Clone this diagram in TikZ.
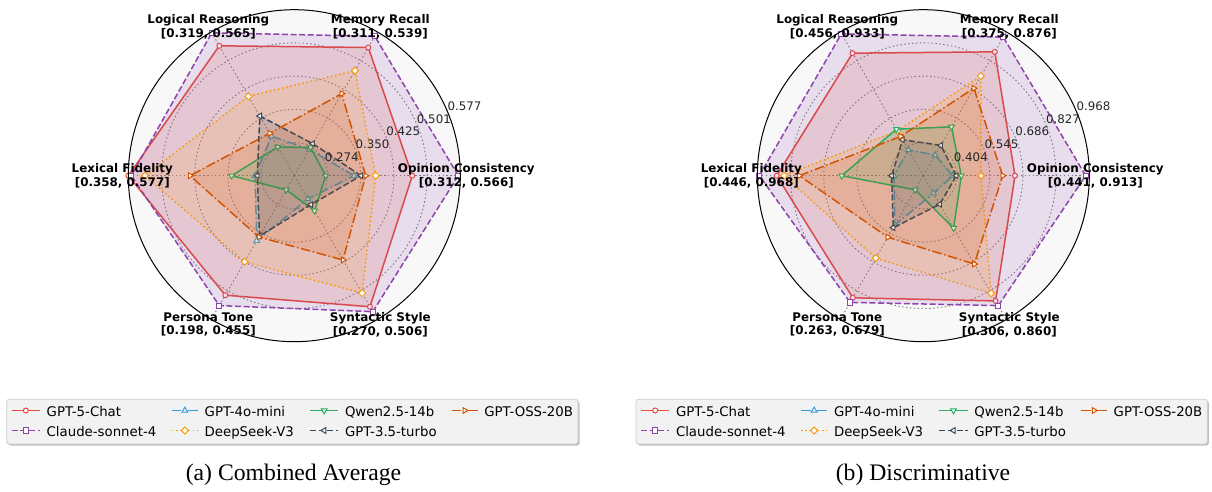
\documentclass[tikz,border=0pt]{standalone}
\usepackage{fontspec}
\setmainfont{DejaVu Sans}
\newfontfamily\capserif{Liberation Serif}
\usetikzlibrary{calc}

% series colours
\definecolor{cRed}{HTML}{E74C3C}
\definecolor{cPurple}{HTML}{8E44AD}
\definecolor{cBlue}{HTML}{3498DB}
\definecolor{cOrange}{HTML}{F39C12}
\definecolor{cGreen}{HTML}{27AE60}
\definecolor{cSlate}{HTML}{34495E}
\definecolor{cRust}{HTML}{D35400}
% frame colours
\definecolor{polarbg}{HTML}{F8F8F8}
\definecolor{gridgrey}{HTML}{808080}
\definecolor{legfill}{HTML}{F2F2F2}
\definecolor{legedge}{HTML}{CCCCCC}

\tikzset{
  every node/.style={inner sep=0pt, outer sep=0pt},
  axlabel/.style={font=\fontsize{11.9}{13.4}\selectfont\bfseries, align=center, anchor=center},
  ticklabel/.style={font=\fontsize{11.8}{13}\selectfont, anchor=base west, text=black!85},
  legtext/.style={font=\fontsize{13.3}{15}\selectfont, anchor=base west},
  captext/.style={font=\capserif\fontsize{23.7}{26}\selectfont, anchor=base},
  gridline/.style={draw=gridgrey, line width=0.9pt, dash pattern=on 1.5pt off 2.4pt},
  serline/.style={line width=1.5pt, line join=round},
  sdash/.style={dash pattern=on 6pt off 2.6pt},
  sdot/.style={dash pattern=on 1.6pt off 2.6pt},
  sdashdot/.style={dash pattern=on 9.6pt off 2.6pt on 1.6pt off 2.6pt},
  mk/.style={solid, line width=1pt, fill=white},
  pics/mo/.style={code={\draw[mk,draw=#1] (0,0) circle (2.5);}},
  pics/ms/.style={code={\draw[mk,draw=#1] (-2.6,-2.6) rectangle (2.6,2.6);}},
  pics/mtu/.style={code={\draw[mk,draw=#1] (90:3.3)--(210:3.3)--(330:3.3)--cycle;}},
  pics/mtd/.style={code={\draw[mk,draw=#1] (270:3.3)--(30:3.3)--(150:3.3)--cycle;}},
  pics/mtl/.style={code={\draw[mk,draw=#1] (180:3.3)--(300:3.3)--(60:3.3)--cycle;}},
  pics/mtr/.style={code={\draw[mk,draw=#1] (0:3.3)--(120:3.3)--(240:3.3)--cycle;}},
  pics/md/.style={code={\draw[mk,draw=#1] (0:3.5)--(90:3.5)--(180:3.5)--(270:3.5)--cycle;}},
}

% polar frame: background disc, dotted rings and spokes
\newcommand{\radarframe}{%
  \fill[polarbg] (0,0) circle (166);
  \foreach \k in {1,...,4} {\draw[gridline] (0,0) circle ({33.2*\k});}
  \foreach \a in {0,60,...,300} {\draw[gridline] (0,0) -- (\a:166);}
}

% one model: #1 colour, #2 line style, #3 marker, #4 radii for the six axes
\newcommand{\radarseries}[4]{%
  \foreach \rad [count=\i from 0] in {#4} {\coordinate (v\i) at ({60*\i}:\rad);}
  \fill[#1, fill opacity=0.15] (v0)--(v1)--(v2)--(v3)--(v4)--(v5)--cycle;
  \draw[serline, #1, #2] (v0)--(v1)--(v2)--(v3)--(v4)--(v5)--cycle;
  \foreach \i in {0,...,5} {\pic at (v\i) {#3=#1};}
}

% one legend entry: #1 x-start, #2 x-end, #3 line y, #4 colour, #5 line style, #6 marker, #7 name, #8 text
\newcommand{\legentry}[8]{%
  \draw[serline, #4, #5] (#1,#3) -- (#2,#3);
  \pic at ({(#1+#2)/2},#3) {#6=#4};
  \node[legtext] (#7) at ({#2+6.7},{#3-5.5}) {#8};
}

\newcommand{\legendblock}[1]{%
  \fill[black!25, rounded corners=2.5pt] (8.2,45.5) rectangle (579.5,90.2);
  \draw[legedge, fill=legfill, rounded corners=2.5pt, line width=0.8pt] (6.7,47) rectangle (578,91.7);
  \legentry{11.7}{40}{80.5}{cRed}{}{mo}{#1-l1}{GPT-5-Chat}
  \legentry{11.7}{40}{60.5}{cPurple}{sdash}{ms}{#1-l2}{Claude-sonnet-4}
  \legentry{171.7}{198}{80.5}{cBlue}{sdashdot}{mtu}{#1-l3}{GPT-4o-mini}
  \legentry{171.7}{198}{60.5}{cOrange}{sdot}{md}{#1-l4}{DeepSeek-V3}
  \legentry{310}{338.3}{80.5}{cGreen}{}{mtd}{#1-l5}{Qwen2.5-14b}
  \legentry{310}{338.3}{60.5}{cSlate}{sdash}{mtl}{#1-l6}{GPT-3.5-turbo}
  \legentry{451.7}{477.7}{80.5}{cRust}{sdashdot}{mtr}{#1-l7}{GPT-OSS-20B}
}

\begin{document}
\begin{tikzpicture}[x=1pt, y=1pt]
\useasboundingbox (0,0) rectangle (1212,491);

% ---------- (a) combined average ----------
\begin{scope}[shift={(294.3,315.3)}]
  \radarframe
  \radarseries{cRed}{}{mo}{118,148,150,166,138,151.3}
  \radarseries{cPurple}{sdash}{ms}{164,161,165,163,150,157}
  \radarseries{cBlue}{sdashdot}{mtu}{59.7,30.4,45.5,39.3,75,27}
  \radarseries{cOrange}{sdot}{md}{81.4,121.3,91.7,149.3,99.4,135.6}
  \radarseries{cGreen}{}{mtd}{31.4,32.5,33.2,62.6,16.3,40.5}
  \radarseries{cSlate}{sdash}{mtl}{66.7,37,68.9,37,69.6,33.4}
  \radarseries{cRust}{sdashdot}{mtr}{71.4,94.7,49,104.3,70.8,97.3}
  \draw[line width=1pt] (0,0) circle (166);
  \foreach \t [count=\k] in {0.274,0.350,0.425,0.501,0.577}
    {\node[ticklabel] (a-tick\k) at ($(22.5:{33.2*\k})+(0,1.7)$) {\t};}
  \node[axlabel] (a-opin) at (0:172) {Opinion Consistency\\{[0.312, 0.566]}};
  \node[axlabel] (a-mem) at (60:172) {Memory Recall\\{[0.311, 0.539]}};
  \node[axlabel] (a-logic) at (120:172) {Logical Reasoning\\{[0.319, 0.565]}};
  \node[axlabel] (a-lex) at (180:172) {Lexical Fidelity\\{[0.358, 0.577]}};
  \node[axlabel] (a-pers) at (240:172) {Persona Tone\\{[0.198, 0.455]}};
  \node[axlabel] (a-syn) at (300:172) {Syntactic Style\\{[0.270, 0.506]}};
\end{scope}
\legendblock{a}
\node[captext] (a-cap) at (293.5,10.3) {(a) Combined Average};

% ---------- (b) discriminative ----------
\begin{scope}[shift={(923.3,315.3)}]
  \radarframe
  \radarseries{cRed}{}{mo}{91.7,143,141.5,146.6,141,144.6}
  \radarseries{cPurple}{sdash}{ms}{162.4,160,163.8,164,146.3,150}
  \radarseries{cBlue}{sdashdot}{mtu}{29.4,23.8,29.8,29.3,56.9,20.3}
  \radarseries{cOrange}{sdot}{md}{57.7,115,51.8,139.3,95.2,135.7}
  \radarseries{cGreen}{}{mtd}{38,56.4,53.7,81.6,16.3,60.5}
  \radarseries{cSlate}{sdash}{mtl}{33,35,41.5,31.6,60,33}
  \radarseries{cRust}{sdashdot}{mtr}{79.4,101,45.4,124,71,102}
  \draw[line width=1pt] (0,0) circle (166);
  \foreach \t [count=\k] in {0.404,0.545,0.686,0.827,0.968}
    {\node[ticklabel] (b-tick\k) at ($(22.5:{33.2*\k})+(0,1.7)$) {\t};}
  \node[axlabel] (b-opin) at (0:172) {Opinion Consistency\\{[0.441, 0.913]}};
  \node[axlabel] (b-mem) at (60:172) {Memory Recall\\{[0.375, 0.876]}};
  \node[axlabel] (b-logic) at (120:172) {Logical Reasoning\\{[0.456, 0.933]}};
  \node[axlabel] (b-lex) at (180:172) {Lexical Fidelity\\{[0.446, 0.968]}};
  \node[axlabel] (b-pers) at (240:172) {Persona Tone\\{[0.263, 0.679]}};
  \node[axlabel] (b-syn) at (300:172) {Syntactic Style\\{[0.306, 0.860]}};
\end{scope}
\begin{scope}[xshift=629.3pt]
  \legendblock{b}
\end{scope}
\node[captext] (b-cap) at (923,10.3) {(b) Discriminative};
\end{tikzpicture}
\end{document}
